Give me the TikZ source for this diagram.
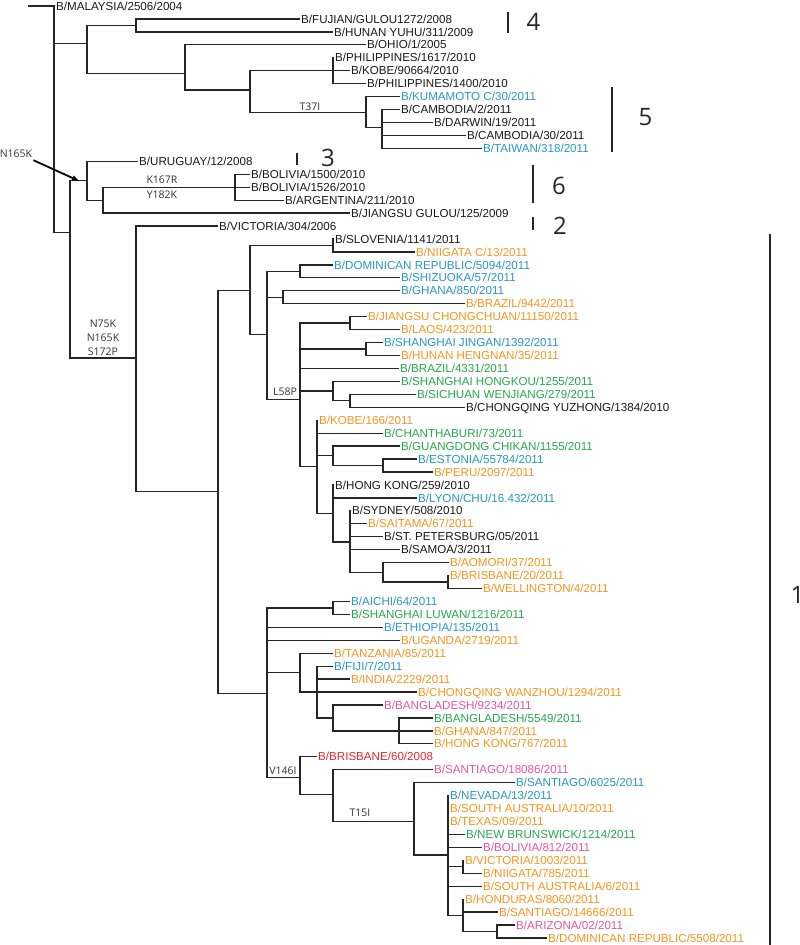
\documentclass[tikz,border=0pt]{standalone}
\usepackage{fontspec}
\setmainfont{Liberation Sans}
\newfontfamily\mutfont{Open Sans}
\usepackage{tikz}
\usetikzlibrary{arrows.meta}
\definecolor{isoblue}{HTML}{2596C8}
\definecolor{isoorange}{HTML}{F7941D}
\definecolor{isogreen}{HTML}{25A84B}
\definecolor{isopink}{HTML}{E5559A}
\definecolor{isored}{HTML}{E8262C}

\begin{document}
\begin{tikzpicture}[
  x=1pt, y=-12.944pt,
  br/.style={draw=black!85, line width=1.3pt},
  lf/.style={anchor=west, inner sep=1pt, text height=8.3pt, text depth=0pt,
             font=\fontsize{11.6}{13}\selectfont, text=black!90},
  lfb/.style={lf, text=isoblue},
  lfo/.style={lf, text=isoorange},
  lfg/.style={lf, text=isogreen},
  lfp/.style={lf, text=isopink},
  lfr/.style={lf, text=isored},
  mut/.style={font=\mutfont\fontsize{10.5}{14}\selectfont, text=black!80,
              inner sep=0pt, align=center},
  clade/.style={font=\mutfont\fontsize{24}{24}\selectfont, text=black!85,
                inner sep=0pt, text height=17.1pt, text depth=0pt},
  gbar/.style={draw=black!85, line width=1.4pt},
  arrow/.style={-{Latex[length=8pt,width=6pt]}, line width=1.8pt},
]
  \useasboundingbox (0,-0.4635) rectangle (800,72.543);

  % Internal nodes (x, row)
  \coordinate (root) at (28,0);
  \coordinate (k1) at (54,0);
  \coordinate (k2) at (87,2.9);
  \coordinate (k3) at (136,1.5);
  \coordinate (k4) at (185,5.2);
  \coordinate (k5) at (250,6.5);
  \coordinate (k6) at (333,5);
  \coordinate (k7) at (366,8.25);
  \coordinate (k8) at (382,9.4);
  \coordinate (k9) at (70,17.5);
  \coordinate (k10) at (87,13.5);
  \coordinate (k11) at (103,15);
  \coordinate (k12) at (235,14);
  \coordinate (k13) at (136,27.2);
  \coordinate (k14) at (218,37.5);
  \coordinate (k15) at (250,22);
  \coordinate (k16) at (333,18.5);
  \coordinate (k17) at (267,25.4);
  \coordinate (k18) at (300,20.5);
  \coordinate (k19) at (283,22.5);
  \coordinate (k20) at (300,30.4);
  \coordinate (k21) at (350,24.5);
  \coordinate (k22) at (366,26.5);
  \coordinate (k23) at (333,29.75);
  \coordinate (k24) at (350,30.5);
  \coordinate (k25) at (317,35.6);
  \coordinate (k26) at (333,34.75);
  \coordinate (k27) at (383,35.5);
  \coordinate (k28) at (333,39.2);
  \coordinate (k29) at (350,41.4);
  \coordinate (k30) at (383,43.75);
  \coordinate (k31) at (448,44.5);
  \coordinate (k32) at (267,53.1);
  \coordinate (k33) at (333,46.5);
  \coordinate (k34) at (300,51.5);
  \coordinate (k35) at (317,53);
  \coordinate (k36) at (333,55);
  \coordinate (k37) at (399,56);
  \coordinate (k38) at (300,59.6);
  \coordinate (k39) at (333,60.9);
  \coordinate (k40) at (414,63);
  \coordinate (k41) at (448,65.6);
  \coordinate (k42) at (463,66.5);
  \coordinate (k43) at (463,70.25);
  \coordinate (k44) at (497,71.5);

  % Leaves: clades 4 and 5
  \node[lf]  (mal)  at (55,0)   {B/MALAYSIA/2506/2004};
  \node[lf]  (fuj)  at (300,1)  {B/FUJIAN/GULOU1272/2008};
  \node[lf]  (hyu)  at (333,2)  {B/HUNAN YUHU/311/2009};
  \node[lf]  (ohi)  at (366,3)  {B/OHIO/1/2005};
  \node[lf]  (phi1) at (334,4)  {B/PHILIPPINES/1617/2010};
  \node[lf]  (kob1) at (350,5)  {B/KOBE/90664/2010};
  \node[lf]  (phi2) at (366,6)  {B/PHILIPPINES/1400/2010};
  \node[lfb] (kum)  at (400,7)  {B/KUMAMOTO C/30/2011};
  \node[lf]  (cam1) at (400,8)  {B/CAMBODIA/2/2011};
  \node[lf]  (dar)  at (433,9)  {B/DARWIN/19/2011};
  \node[lf]  (cam2) at (466,10) {B/CAMBODIA/30/2011};
  \node[lfb] (tai)  at (482,11) {B/TAIWAN/318/2011};

  % Leaves: clades 3, 6 and 2
  \node[lf]  (uru)  at (138,12) {B/URUGUAY/12/2008};
  \node[lf]  (bol1) at (250,13) {B/BOLIVIA/1500/2010};
  \node[lf]  (bol2) at (250,14) {B/BOLIVIA/1526/2010};
  \node[lf]  (arg)  at (284,15) {B/ARGENTINA/211/2010};
  \node[lf]  (jgu)  at (350,16) {B/JIANGSU GULOU/125/2009};
  \node[lf]  (vic1) at (218,17) {B/VICTORIA/304/2006};

  % Leaves: clade 1
  \node[lf]  (slo)  at (334,18) {B/SLOVENIA/1141/2011};
  \node[lfo] (nii1) at (415,19) {B/NIIGATA C/13/2011};
  \node[lfb] (dom1) at (333,20) {B/DOMINICAN REPUBLIC/5094/2011};
  \node[lfb] (shi)  at (400,21) {B/SHIZUOKA/57/2011};
  \node[lfb] (gha1) at (400,22) {B/GHANA/850/2011};
  \node[lfo] (bra1) at (465,23) {B/BRAZIL/9442/2011};
  \node[lfo] (jcc)  at (367,24) {B/JIANGSU CHONGCHUAN/11150/2011};
  \node[lfo] (lao)  at (400,25) {B/LAOS/423/2011};
  \node[lfb] (sji)  at (383,26) {B/SHANGHAI JINGAN/1392/2011};
  \node[lfo] (hhe)  at (400,27) {B/HUNAN HENGNAN/35/2011};
  \node[lfg] (bra2) at (399,28) {B/BRAZIL/4331/2011};
  \node[lfg] (shk)  at (400,29) {B/SHANGHAI HONGKOU/1255/2011};
  \node[lfg] (swj)  at (416,30) {B/SICHUAN WENJIANG/279/2011};
  \node[lf]  (cyz)  at (465,31) {B/CHONGQING YUZHONG/1384/2010};
  \node[lfo] (kob2) at (318,32) {B/KOBE/166/2011};
  \node[lfg] (cha)  at (383,33) {B/CHANTHABURI/73/2011};
  \node[lfg] (gch)  at (400,34) {B/GUANGDONG CHIKAN/1155/2011};
  \node[lfb] (est)  at (417,35) {B/ESTONIA/55784/2011};
  \node[lfo] (per)  at (433,36) {B/PERU/2097/2011};
  \node[lf]  (hkg1) at (334,37) {B/HONG KONG/259/2010};
  \node[lfb] (lyo)  at (417,38) {B/LYON/CHU/16.432/2011};
  \node[lf]  (syd)  at (351,39) {B/SYDNEY/508/2010};
  \node[lfo] (sai)  at (367,40) {B/SAITAMA/67/2011};
  \node[lf]  (stp)  at (383,41) {B/ST. PETERSBURG/05/2011};
  \node[lf]  (sam)  at (400,42) {B/SAMOA/3/2011};
  \node[lfo] (aom)  at (449,43) {B/AOMORI/37/2011};
  \node[lfo] (bri1) at (449,44) {B/BRISBANE/20/2011};
  \node[lfo] (wel)  at (482,45) {B/WELLINGTON/4/2011};
  \node[lfb] (aic)  at (350,46) {B/AICHI/64/2011};
  \node[lfg] (slw)  at (350,47) {B/SHANGHAI LUWAN/1216/2011};
  \node[lfb] (eth)  at (383,48) {B/ETHIOPIA/135/2011};
  \node[lfo] (uga)  at (400,49) {B/UGANDA/2719/2011};
  \node[lfo] (tan)  at (333,50) {B/TANZANIA/85/2011};
  \node[lfb] (fij)  at (333,51) {B/FIJI/7/2011};
  \node[lfo] (ind)  at (350,52) {B/INDIA/2229/2011};
  \node[lfo] (cwz)  at (417,53) {B/CHONGQING WANZHOU/1294/2011};
  \node[lfp] (ban1) at (383,54) {B/BANGLADESH/9234/2011};
  \node[lfg] (ban2) at (433,55) {B/BANGLADESH/5549/2011};
  \node[lfo] (gha2) at (433,56) {B/GHANA/847/2011};
  \node[lfo] (hkg2) at (433,57) {B/HONG KONG/767/2011};
  \node[lfr] (bri2) at (317,58) {B/BRISBANE/60/2008};
  \node[lfp] (san1) at (433,59) {B/SANTIAGO/18086/2011};
  \node[lfb] (san2) at (515,60) {B/SANTIAGO/6025/2011};
  \node[lfb] (nev)  at (449,61) {B/NEVADA/13/2011};
  \node[lfo] (sau1) at (449,62) {B/SOUTH AUSTRALIA/10/2011};
  \node[lfo] (tex)  at (449,63) {B/TEXAS/09/2011};
  \node[lfg] (nbr)  at (465,64) {B/NEW BRUNSWICK/1214/2011};
  \node[lfp] (bol3) at (482,65) {B/BOLIVIA/812/2011};
  \node[lfo] (vic2) at (464,66) {B/VICTORIA/1003/2011};
  \node[lfo] (nii2) at (482,67) {B/NIIGATA/785/2011};
  \node[lfo] (sau2) at (482,68) {B/SOUTH AUSTRALIA/6/2011};
  \node[lfo] (hon)  at (464,69) {B/HONDURAS/8060/2011};
  \node[lfo] (san3) at (498,70) {B/SANTIAGO/14666/2011};
  \node[lfp] (ari)  at (515,71) {B/ARIZONA/02/2011};
  \node[lfo] (dom2) at (547,72) {B/DOMINICAN REPUBLIC/5508/2011};

  % Branches
  \draw[br] (root) -- (k1);
  \draw[br] (k1) |- (mal) (k1) |- (k2) (k1) |- (k9);
  \draw[br] (k2) |- (k3) (k2) |- (k4);
  \draw[br] (k3) |- (fuj) (k3) |- (hyu);
  \draw[br] (k4) |- (ohi) (k4) |- (k5);
  \draw[br] (k5) |- (k6) (k5) |- (k7);
  \draw[br] (k6) |- (phi1) (k6) |- (kob1) (k6) |- (phi2);
  \draw[br] (k7) |- (kum) (k7) |- (k8);
  \draw[br] (k8) |- (cam1) (k8) |- (dar) (k8) |- (cam2) (k8) |- (tai);
  \draw[br] (k9) |- (k10) (k9) |- (k13);
  \draw[br] (k10) |- (uru) (k10) |- (k11);
  \draw[br] (k11) |- (k12) (k11) |- (jgu);
  \draw[br] (k12) |- (bol1) (k12) |- (bol2) (k12) |- (arg);
  \draw[br] (k13) |- (vic1) (k13) |- (k14);
  \draw[br] (k14) |- (k15) (k14) |- (k32);
  \draw[br] (k15) |- (k16) (k15) |- (k17);
  \draw[br] (k16) |- (slo) (k16) |- (nii1);
  \draw[br] (k17) |- (k18) (k17) |- (k19) (k17) |- (k20);
  \draw[br] (k18) |- (dom1) (k18) |- (shi);
  \draw[br] (k19) |- (gha1) (k19) |- (bra1);
  \draw[br] (k20) |- (k21) (k20) |- (k22) (k20) |- (bra2) (k20) |- (k23) (k20) |- (k25);
  \draw[br] (k21) |- (jcc) (k21) |- (lao);
  \draw[br] (k22) |- (sji) (k22) |- (hhe);
  \draw[br] (k23) |- (shk) (k23) |- (k24);
  \draw[br] (k24) |- (swj) (k24) |- (cyz);
  \draw[br] (k25) |- (kob2) (k25) |- (cha) (k25) |- (k26) (k25) |- (k28);
  \draw[br] (k26) |- (gch) (k26) |- (k27);
  \draw[br] (k27) |- (est) (k27) |- (per);
  \draw[br] (k28) |- (hkg1) (k28) |- (lyo) (k28) |- (k29);
  \draw[br] (k29) |- (syd) (k29) |- (sai) (k29) |- (stp) (k29) |- (sam) (k29) |- (k30);
  \draw[br] (k30) |- (aom) (k30) |- (k31);
  \draw[br] (k31) |- (bri1) (k31) |- (wel);
  \draw[br] (k32) |- (k33) (k32) |- (eth) (k32) |- (uga) (k32) |- (k34) (k32) |- (k38);
  \draw[br] (k33) |- (aic) (k33) |- (slw);
  \draw[br] (k34) |- (tan) (k34) |- (k35);
  \draw[br] (k35) |- (fij) (k35) |- (ind) (k35) |- (cwz) (k35) |- (k36);
  \draw[br] (k36) |- (ban1) (k36) |- (k37);
  \draw[br] (k37) |- (ban2) (k37) |- (gha2) (k37) |- (hkg2);
  \draw[br] (k38) |- (bri2) (k38) |- (k39);
  \draw[br] (k39) |- (san1) (k39) |- (k40);
  \draw[br] (k40) |- (san2) (k40) |- (k41);
  \draw[br] (k41) |- (nev) (k41) |- (sau1) (k41) |- (tex) (k41) |- (nbr)
            (k41) |- (bol3) (k41) |- (k42) (k41) |- (sau2) (k41) |- (k43);
  \draw[br] (k42) |- (vic2) (k42) |- (nii2);
  \draw[br] (k43) |- (hon) (k43) |- (san3) (k43) |- (k44);
  \draw[br] (k44) |- (ari) (k44) |- (dom2);

  % Mutations
  \node[mut] (m1) at (310,7.8) {T37I};
  \node[mut] (m2) at (162,13.44) {K167R};
  \node[mut] (m3) at (162,14.56) {Y182K};
  \node[mut] (m4) at (16,11.4) {N165K};
  \node[mut] (m5) at (103,25.63) {N75K\\N165K\\S172P};
  \node[mut] (m6) at (285,29.82) {L58P};
  \node[mut] (m7) at (283,59.1) {V146I};
  \node[mut] (m8) at (360,62.35) {T15I};
  \coordinate (ntip) at (80,13.55);
  \draw[arrow] (m4.south east) ++(1,0.2) -- (ntip);

  % Clade bars
  \draw[gbar] (508,0.46) -- (508,2.09);
  \draw[gbar] (612,6.26) -- (612,11.28);
  \draw[gbar] (297,11.36) -- (297,12.28);
  \draw[gbar] (533,12.28) -- (533,15.22);
  \draw[gbar] (533,16.3) -- (533,17.3);
  \draw[gbar] (770,17.6) -- (770,72.6);
  \node[clade] (g4) at (533.5,1.25) {4};
  \node[clade] (g5) at (645.5,8.58) {5};
  \node[clade] (g3) at (328,11.7) {3};
  \node[clade] (g6) at (559,13.9) {6};
  \node[clade] (g2) at (560,17.0) {2};
  \node[clade, anchor=west] (g1) at (790.5,45.5) {1};
\end{tikzpicture}
\end{document}
